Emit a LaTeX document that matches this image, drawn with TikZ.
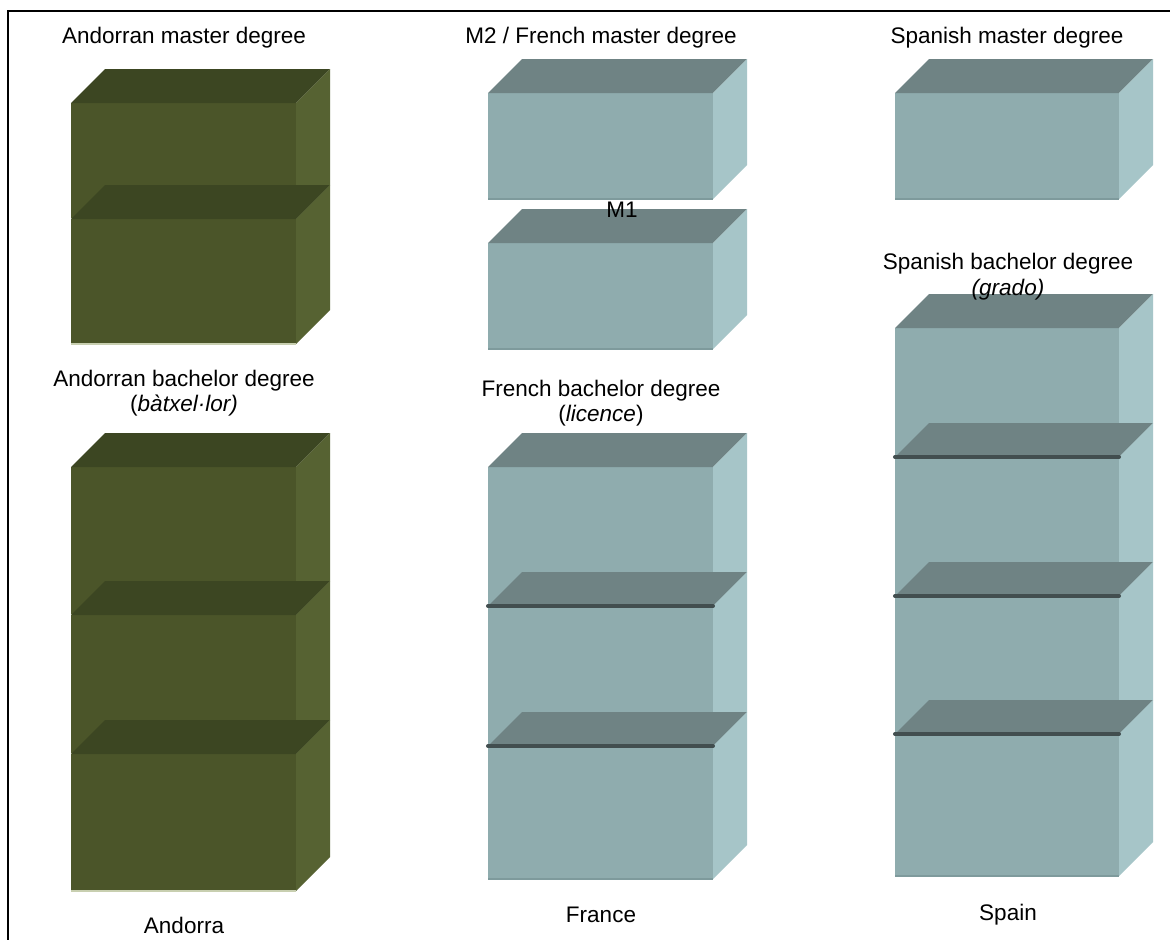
\documentclass[tikz,border=0pt]{standalone}
\usepackage{fontspec}
\setmainfont{Liberation Sans}
\definecolor{olfront}{HTML}{4B5529}
\definecolor{oltop}{HTML}{3C4622}
\definecolor{olside}{HTML}{566232}
\definecolor{oledge}{HTML}{C8CFB0}
\definecolor{tefront}{HTML}{8FACAE}
\definecolor{tetop}{HTML}{6F8384}
\definecolor{teside}{HTML}{A6C5C8}
\definecolor{teedge}{HTML}{7E9A9C}
\definecolor{shelfline}{HTML}{424E4F}
\newcommand{\degbox}[5]{%
  \fill[#5front] (#1,#3) rectangle (#2,#4);
  \fill[#5top] (#1,#3) -- (#1+34,#3-34) -- (#2+34,#3-34) -- (#2,#3) -- cycle;
  \fill[#5side] (#2,#3) -- (#2+34,#3-34) -- (#2+34,#4-34) -- (#2,#4) -- cycle;
  \draw[#5edge, line width=1.2] (#1,#4) -- (#2,#4);
}
\newcommand{\shelfmark}[3]{%
  \draw[shelfline, line width=4, line cap=round] (#1,#3) -- (#2,#3);
}
\tikzset{
  lbl/.style={font=\fontsize{22.5bp}{27bp}\selectfont, inner sep=0pt, text=black},
  frameline/.style={draw=black, line width=2}
}
\begin{document}
\begin{tikzpicture}[x=1bp, y=-1bp]
\useasboundingbox (0,0) rectangle (1170,940);
\fill[white] (0,0) rectangle (1170,940);
\begin{scope}
\clip (0,0) rectangle (1170,940);
\draw[frameline] (8,960) -- (8,11) -- (1180,11);
\end{scope}

% Andorra
\degbox{71}{296}{103}{219}{ol}
\degbox{71}{296}{219}{344}{ol}
\degbox{71}{296}{467}{615}{ol}
\degbox{71}{296}{615}{754}{ol}
\degbox{71}{296}{754}{891}{ol}

% France
\degbox{488}{713}{93}{199}{te}
\degbox{488}{713}{243}{349}{te}
\degbox{488}{713}{467}{606}{te}
\degbox{488}{713}{606}{746}{te}
\shelfmark{488}{713}{606}
\degbox{488}{713}{746}{879}{te}
\shelfmark{488}{713}{746}

% Spain
\degbox{895}{1119}{93}{199}{te}
\degbox{895}{1119}{328}{457}{te}
\degbox{895}{1119}{457}{596}{te}
\shelfmark{895}{1119}{457}
\degbox{895}{1119}{596}{734}{te}
\shelfmark{895}{1119}{596}
\degbox{895}{1119}{734}{876}{te}
\shelfmark{895}{1119}{734}

% labels
\node[lbl] (amaster) at (184,38) {Andorran master degree};
\node[lbl] (fmaster) at (601,38) {M2 / French master degree};
\node[lbl] (smaster) at (1007,38) {Spanish master degree};
\node[lbl] (mone) at (622,210) {M1};
\node[lbl] (sbach) at (1008,264) {Spanish bachelor degree};
\node[lbl] (sgrado) at (1008,290) {\itshape (grado)};
\node[lbl] (abach) at (184,381) {Andorran bachelor degree};
\node[lbl] (abatx) at (184,406) {(\textit{bàtxel·lor)}};
\node[lbl] (fbach) at (601,391) {French bachelor degree};
\node[lbl] (flic) at (601,416) {(\textit{licence})};
\node[lbl] (andorra) at (184,925) {Andorra};
\node[lbl] (france) at (601,915) {France};
\node[lbl] (spain) at (1008,915) {Spain};
\end{tikzpicture}
\end{document}
